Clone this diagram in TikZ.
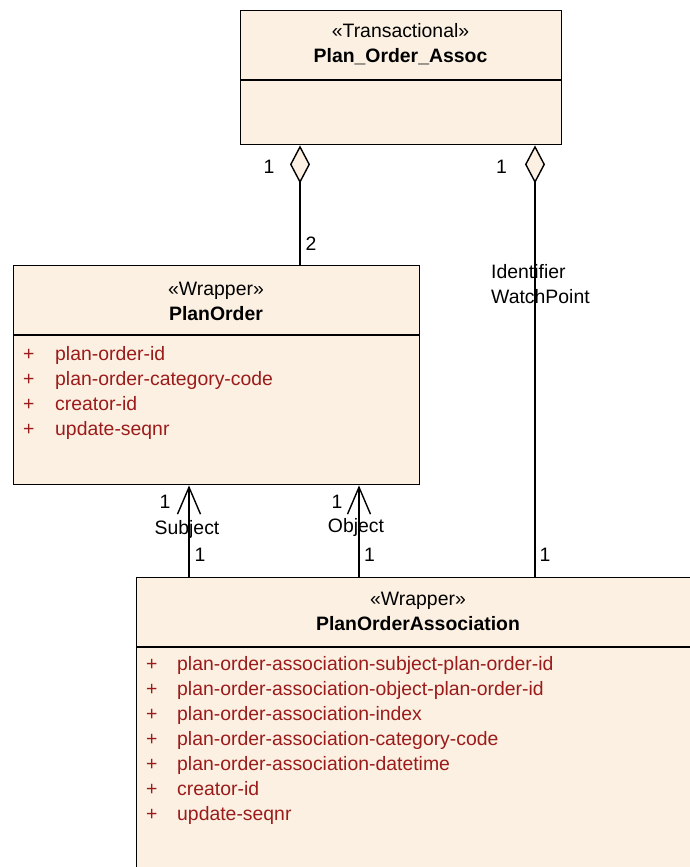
\documentclass[tikz,border=0pt]{standalone}
\usepackage{fontspec}
\setmainfont{Liberation Sans}
\usetikzlibrary{arrows.meta,positioning}
\definecolor{umlfill}{HTML}{FBF0E2}
\definecolor{attrred}{HTML}{9B1B1B}
\tikzset{umlbox/.style={draw=black,line width=1.4pt,fill=umlfill,anchor=north west,inner sep=0pt},
umlline/.style={line width=1.4pt,draw=black},
hdr/.style={anchor=base,inner sep=0pt,font=\fontsize{19.4}{25}\selectfont},
attr/.style={anchor=base west,inner sep=0pt,text=attrred,font=\fontsize{19.4}{25}\selectfont},
lbl/.style={anchor=base,inner sep=0pt,font=\fontsize{19.4}{25}\selectfont},
agg/.style={umlline,arrows={Diamond[length=38pt,width=20pt,fill=umlfill]-}},
nav/.style={umlline,arrows={-Straight Barb[length=27pt,width=23pt]}}}

\begin{document}
\begin{tikzpicture}[x=1pt,y=1pt]
\useasboundingbox (0,0) rectangle (690,-867);
\clip (0,0) rectangle (690,-867);
% class boxes
\node[umlbox,minimum width=321pt,minimum height=134pt](assoc) at (240,-10){};
\draw[umlline]([yshift=-70pt]assoc.north west)--([yshift=-70pt]assoc.north east);
\node[hdr](assochd) at (400.5,-37.5){\begin{tabular}[t]{@{}c@{}}«Transactional»\\\textbf{Plan\_Order\_Assoc}\end{tabular}};
\node[umlbox,minimum width=406pt,minimum height=219pt](po) at (13,-265){};
\draw[umlline]([yshift=-70pt]po.north west)--([yshift=-70pt]po.north east);
\node[hdr](pohd) at (216,-295){\begin{tabular}[t]{@{}c@{}}«Wrapper»\\\textbf{PlanOrder}\end{tabular}};
\node[attr](poattr) at (23,-360){\begin{tabular}[t]{@{}p{32pt}@{}l@{}}
+&plan-order-id\\+&plan-order-category-code\\+&creator-id\\+&update-seqnr\end{tabular}};
\node[umlbox,minimum width=564pt,minimum height=320pt](poa) at (136,-577){};
\draw[umlline]([yshift=-70pt]poa.north west)--([yshift=-70pt]poa.north east);
\node[hdr](poahd) at (418,-605){\begin{tabular}[t]{@{}c@{}}«Wrapper»\\\textbf{PlanOrderAssociation}\end{tabular}};
\node[attr](poaattr) at (146,-670){\begin{tabular}[t]{@{}p{31pt}@{}l@{}}
+&plan-order-association-subject-plan-order-id\\+&plan-order-association-object-plan-order-id\\
+&plan-order-association-index\\+&plan-order-association-category-code\\
+&plan-order-association-datetime\\+&creator-id\\+&update-seqnr\end{tabular}};
% connectors
\draw[agg]([xshift=60pt]assoc.south west)--([xshift=287pt]po.north west);
\draw[agg]([xshift=295pt]assoc.south west)--([xshift=399pt]poa.north west);
\draw[nav]([xshift=53pt]poa.north west)--([xshift=176pt]po.south west);
\draw[nav]([xshift=223pt]poa.north west)--([xshift=346pt]po.south west);
% multiplicities and roles
\node[lbl](m1) at (269,-173.3){1};
\node[lbl](m2) at (311,-250){2};
\node[lbl](m3) at (501.5,-173.3){1};
\node[lbl,anchor=base west](wp) at (491,-278){\begin{tabular}[t]{@{}l@{}}Identifier\\WatchPoint\end{tabular}};
\node[lbl](m4) at (545,-561.5){1};
\node[lbl](m5) at (165,-508.5){1};
\node[lbl](subj) at (187,-534){Subject};
\node[lbl](m6) at (200,-561.5){1};
\node[lbl](m7) at (337,-508.5){1};
\node[lbl](obj) at (356,-532){Object};
\node[lbl](m8) at (369.5,-561.5){1};
\end{tikzpicture}
\end{document}
